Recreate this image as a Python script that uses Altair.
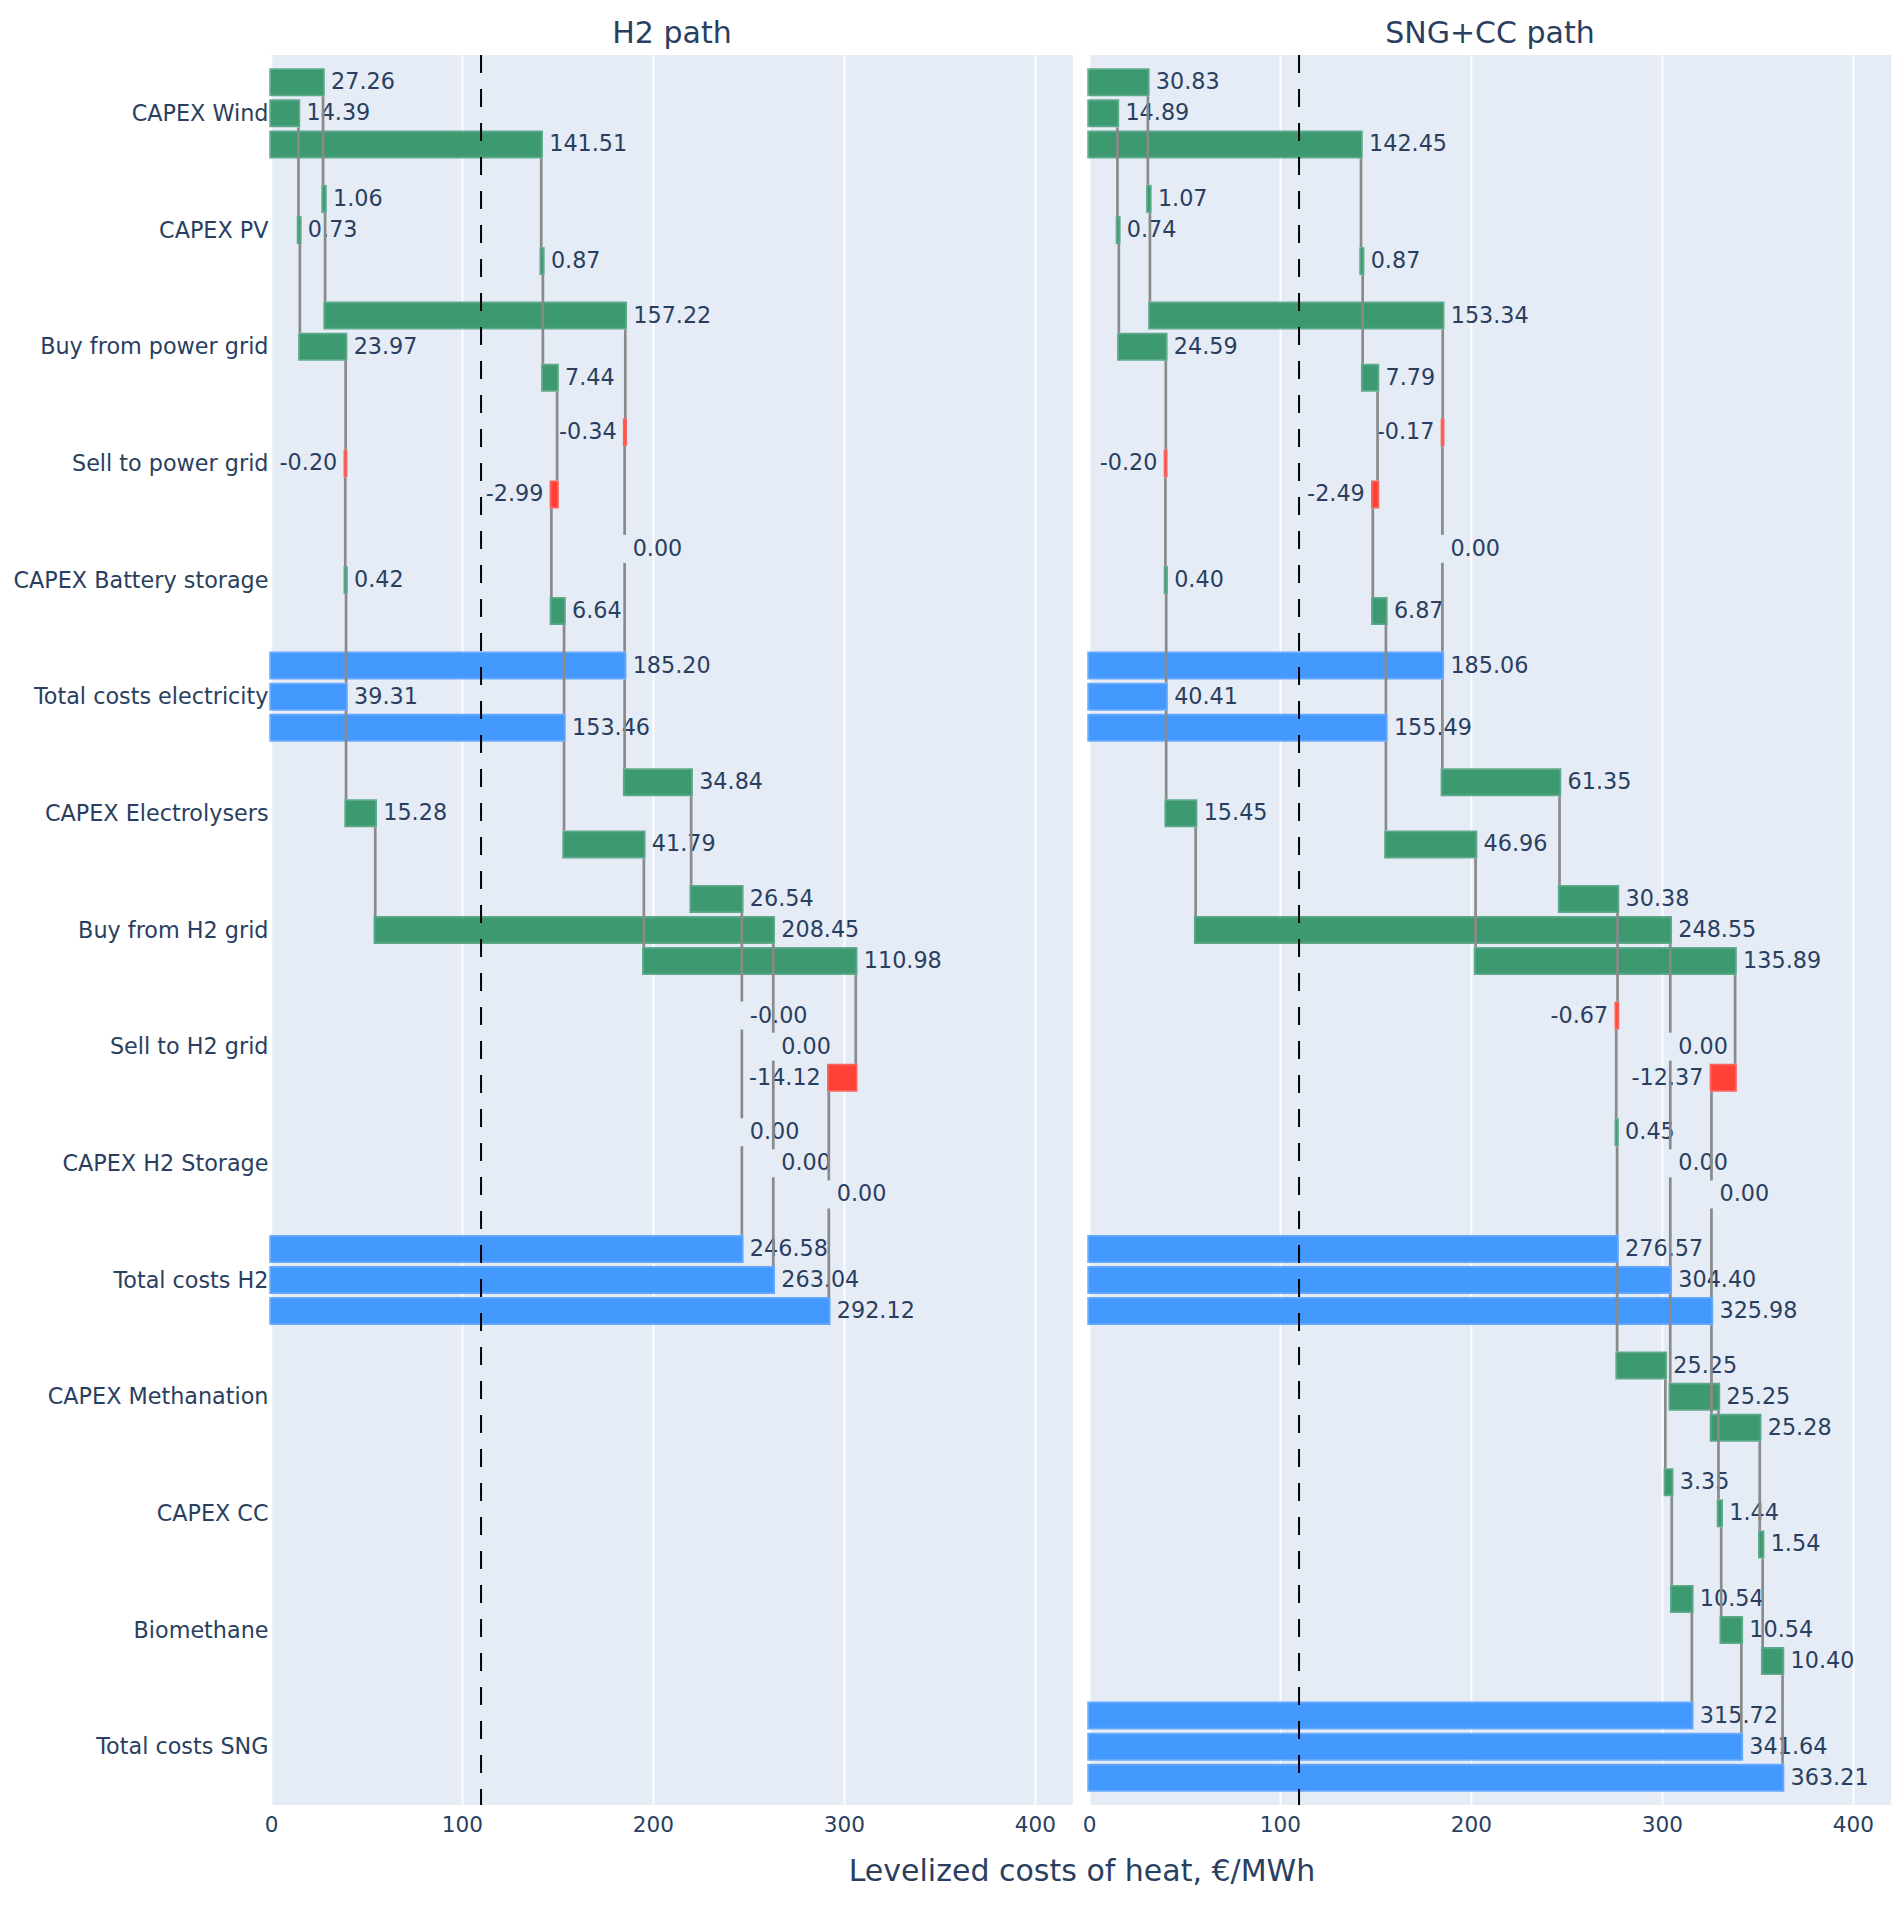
import json
import altair as alt
import pandas as pd

# ---------------- data ----------------
categories = [
    "CAPEX Wind", "CAPEX PV", "Buy from power grid", "Sell to power grid",
    "CAPEX Battery storage", "Total costs electricity", "CAPEX Electrolysers",
    "Buy from H2 grid", "Sell to H2 grid", "CAPEX H2 Storage", "Total costs H2",
    "CAPEX Methanation", "CAPEX CC", "Biomethane", "Total costs SNG",
]
total_rows = ["Total costs electricity", "Total costs H2", "Total costs SNG"]
panel_titles = ["H2 path", "SNG+CC path"]

# H2 path (three scenarios)
h2_series_1 = [27.26, 1.06, 157.22, -0.34, 0.00, 185.20, 34.84, 26.54, -0.0, 0.00, 246.58, None, None, None, None]
h2_series_2 = [14.39, 0.73, 23.97, -0.20, 0.42, 39.31, 15.28, 208.45, 0.00, 0.00, 263.04, None, None, None, None]
h2_series_3 = [141.51, 0.87, 7.44, -2.99, 6.64, 153.46, 41.79, 110.98, -14.12, 0.00, 292.12, None, None, None, None]

# SNG+CC path (three scenarios)
sng_series_1 = [30.83, 1.07, 153.34, -0.17, 0.00, 185.06, 61.35, 30.38, -0.67, 0.45, 276.57, 25.25, 3.35, 10.54, 315.72]
sng_series_2 = [14.89, 0.74, 24.59, -0.20, 0.40, 40.41, 15.45, 248.55, 0.00, 0.00, 304.40, 25.25, 1.44, 10.54, 341.64]
sng_series_3 = [142.45, 0.87, 7.79, -2.49, 6.87, 155.49, 46.96, 135.89, -12.37, 0.00, 325.98, 25.28, 1.54, 10.40, 363.21]

reference_cost = [110]
x_ticks = [0, 100, 200, 300, 400]
x_axis_title = "Levelized costs of heat, €/MWh"

# ---------------- styling ----------------
FONT = "DejaVu Sans"
TXT = "#2a3f5f"
BG = "#E5ECF6"
GROUP_STEP = 0.2667   # offset of each scenario inside a category band
HALF = 0.105          # half thickness of a bar fill, in band units
PANEL_W, PANEL_H = 802, 1750
FS = 22.3
TICK_FS = 21.6
COLORS = ["#3D9970", "#FF4136", "#4499FF"]


def build(series_list):
    bars, links = [], []
    for s, vals in enumerate(series_list):
        running = 0.0
        prev = None
        for i, v in enumerate(vals):
            if v is None:
                continue
            yc = i + (s - 1) * GROUP_STEP
            if categories[i] in total_rows:
                start, end, kind = 0.0, v, "total"
            else:
                start, end = running, running + v
                kind = "dec" if v < 0 else "inc"
            running = end
            bars.append(dict(series=s, cat=categories[i], x0=start, x1=end, yc=yc,
                             y0=yc - HALF, y1=yc + HALF, kind=kind,
                             visible=abs(v) >= 0.005,
                             label=f"{v:.2f}", side="left" if v < 0 else "right"))
            if prev is not None:
                links.append(dict(series=s, x=prev[0], y0=prev[1] + 0.12, y1=yc - 0.12))
            prev = (end, yc)
    return pd.DataFrame(bars), pd.DataFrame(links)


xscale = alt.Scale(domain=[0, 420], nice=False, zero=False)
xaxis = alt.Axis(values=x_ticks, title=None, grid=True, gridColor="white", gridWidth=1.8,
                 domain=False, ticks=False, labelFontSize=TICK_FS, labelPadding=9,
                 labelFlush=False, labelFont=FONT, labelColor=TXT)
yscale = alt.Scale(domain=[-0.5, len(categories) - 0.5], reverse=True, nice=False, zero=False)
label_expr = json.dumps(categories) + "[datum.value]"
yaxis_left = alt.Axis(values=list(range(len(categories))), labelExpr=label_expr, title=None,
                      grid=False, ticks=False, domain=False, labelFontSize=FS,
                      labelPadding=3, labelFont=FONT, labelColor=TXT, labelLimit=400)


def xenc(field):
    return alt.X(field, scale=xscale, axis=xaxis, title=None)


def panel(title, series_list, show_y):
    bars_df, links_df = build(series_list)
    yaxis = yaxis_left if show_y else None

    def yenc(field):
        return alt.Y(field, scale=yscale, axis=yaxis, title=None)

    base = alt.Chart(bars_df)
    cscale = alt.Scale(domain=["inc", "dec", "total"], range=COLORS)
    bars = base.transform_filter(alt.datum.visible).mark_bar(
        strokeWidth=3.5, strokeOpacity=0.8
    ).encode(
        x=xenc("x0:Q"), x2="x1:Q", y=yenc("y0:Q"), y2="y1:Q",
        color=alt.Color("kind:N", scale=cscale, legend=None),
        stroke=alt.Stroke("kind:N", scale=cscale, legend=None),
    )
    txt_r = base.transform_filter(alt.datum.side == "right").mark_text(
        align="left", baseline="middle", dx=8, font=FONT, fontSize=FS, color=TXT
    ).encode(x=xenc("x1:Q"), y=yenc("yc:Q"), text="label:N")
    txt_l = base.transform_filter(alt.datum.side == "left").mark_text(
        align="right", baseline="middle", dx=-8, font=FONT, fontSize=FS, color=TXT
    ).encode(x=xenc("x1:Q"), y=yenc("yc:Q"), text="label:N")
    links = alt.Chart(links_df).mark_rule(color="#8a8a8a", strokeWidth=2.7).encode(
        x=xenc("x:Q"), y=yenc("y0:Q"), y2="y1:Q"
    )
    ref = alt.Chart(pd.DataFrame({"x": reference_cost})).mark_rule(
        color="black", strokeWidth=2, strokeDash=[18, 16]
    ).encode(x=xenc("x:Q"))
    return alt.layer(bars, txt_r, txt_l, links, ref).properties(
        width=PANEL_W, height=PANEL_H,
        title=alt.TitleParams(title, fontSize=30, font=FONT, color=TXT,
                              fontWeight="normal", offset=5, anchor="middle"),
    )


left = panel(panel_titles[0], [h2_series_1, h2_series_2, h2_series_3], True)
right = panel(panel_titles[1], [sng_series_1, sng_series_2, sng_series_3], False)

chart = alt.hconcat(left, right, spacing=9).properties(
    padding={"left": 4, "top": 11, "right": 0, "bottom": 2},
    title=alt.TitleParams(x_axis_title, orient="bottom", anchor="middle", fontSize=30,
                          font=FONT, color=TXT, fontWeight="normal", offset=21, dx=130)
).configure_view(fill=BG, strokeWidth=0)

chart.save("out.html", embed_options={"renderer": "svg", "actions": False})
